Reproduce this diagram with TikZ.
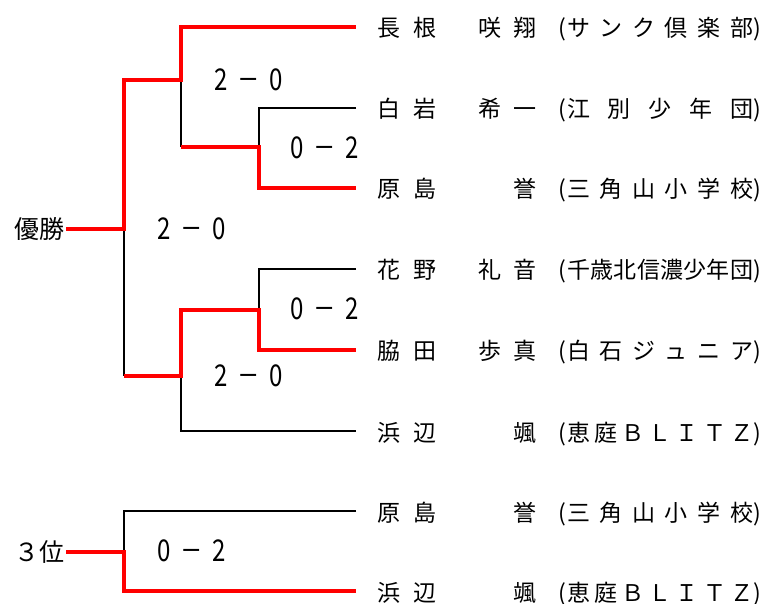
\documentclass[tikz,border=0pt]{standalone}
\usepackage{fontspec}
\setmainfont{Noto Sans CJK JP}
\newfontfamily\jpfont{Noto Sans CJK JP}
\newcommand\namefont{\jpfont\fontsize{23}{23}\selectfont}
\newcommand\scorefont{\jpfont\fontsize{30}{30}\selectfont}
\newcommand\labelfont{\jpfont\fontsize{25}{25}\selectfont}
\newcommand\scorechar[1]{\makebox[27.5pt]{\scalebox{0.8}[1]{#1}}}
\newcommand\score[2]{\scorechar{#1}\makebox[27.5pt]{\scalebox{1.1}[1]{−}}\scorechar{#2}}
\begin{document}
\begin{tikzpicture}[x=1pt,y=-1pt,
  bk/.style={line width=2pt, black},
  rd/.style={line width=4pt, red},
  nm/.style={inner sep=0pt, font=\namefont},
  sc/.style={inner sep=0pt, font=\scorefont},
  lb/.style={inner sep=0pt, font=\labelfont, anchor=east}]
\useasboundingbox (0,0) rectangle (764,604);

% bracket coordinates
\coordinate (e1) at (356,27);
\coordinate (e2) at (356,108);
\coordinate (e3) at (356,188);
\coordinate (e4) at (356,269);
\coordinate (e5) at (356,350);
\coordinate (e6) at (356,431);
\coordinate (e7) at (356,511);
\coordinate (e8) at (356,591);
\coordinate (a1) at (181,27);
\coordinate (b2) at (259,108);
\coordinate (b2m) at (259,147);
\coordinate (a2m) at (181,147);
\coordinate (b3) at (259,188);
\coordinate (a12) at (181,80);
\coordinate (f12) at (124,80);
\coordinate (fin) at (124,229);
\coordinate (win) at (66,229);
\coordinate (b4) at (259,269);
\coordinate (b45) at (259,310);
\coordinate (a45) at (181,310);
\coordinate (b5) at (259,350);
\coordinate (a456) at (181,376);
\coordinate (f456) at (124,376);
\coordinate (a6) at (181,431);
\coordinate (t7) at (124,511);
\coordinate (tm) at (124,552);
\coordinate (third) at (66,552);
\coordinate (t8) at (124,591);

% black (losing) lines
\draw[bk] (e2) -- (b2) -- (b2m);
\draw[bk] (a12) -- (a2m);
\draw[bk] (fin) -- (f456);
\draw[bk] (e4) -- (b4) -- (b45);
\draw[bk] (a456) -- (a6) -- (e6);
\draw[bk] (e7) -- (t7) -- (tm);

% red (winning) lines
\draw[rd] (win) -- (fin) -- (f12) -- (a12) -- (a1) -- (e1);
\draw[rd] (a2m) -- (b2m) -- (b3) -- (e3);
\draw[rd] (f456) -- (a456) -- (a45) -- (b45) -- (b5) -- (e5);
\draw[rd] (third) -- (tm) -- (t8) -- (e8);

% labels
\node[lb] (lwin) at (65,229) {優勝};
\node[lb] (lthird) at (65,552) {３位};

% scores
\node[sc] (s12) at (249,80) {\score{2}{0}};
\node[sc] (s23) at (325,148) {\score{0}{2}};
\node[sc] (sfin) at (192,229) {\score{2}{0}};
\node[sc] (s45) at (325,309) {\score{0}{2}};
\node[sc] (s456) at (249,376) {\score{2}{0}};
\node[sc] (sthird) at (192,551) {\score{0}{2}};

% players
\newcommand\player[5]{%
  \node[nm, anchor=base west] (sur#1) at (377,#2+10) {\makebox[59pt][s]{#3}};
  \node[nm, anchor=base east] (giv#1) at (537,#2+10) {#4};
  \node[nm, anchor=base east] (op#1) at (566,#2+10) {(};
  \node[nm, anchor=base west] (club#1) at (567,#2+10) {\makebox[186pt][s]{#5}};
  \node[nm, anchor=base west] (cp#1) at (753,#2+10) {)};
}
\player{1}{27}{長\hfill 根}{\makebox[58pt][s]{咲\hfill 翔}}{サ\hfill ン\hfill ク\hfill 倶\hfill 楽\hfill 部}
\player{2}{108}{白\hfill 岩}{\makebox[58pt][s]{希\hfill 一}}{江\hfill 別\hfill 少\hfill 年\hfill 団}
\player{3}{188}{原\hfill 島}{誉}{三\hfill 角\hfill 山\hfill 小\hfill 学\hfill 校}
\player{4}{269}{花\hfill 野}{\makebox[58pt][s]{礼\hfill 音}}{千\hfill 歳\hfill 北\hfill 信\hfill 濃\hfill 少\hfill 年\hfill 団}
\player{5}{350}{脇\hfill 田}{\makebox[58pt][s]{歩\hfill 真}}{白\hfill 石\hfill ジ\hfill ュ\hfill ニ\hfill ア}
\player{6}{431}{浜\hfill 辺}{颯}{恵\hfill 庭\hfill Ｂ\hfill Ｌ\hfill Ｉ\hfill Ｔ\hfill Ｚ}
\player{7}{511}{原\hfill 島}{誉}{三\hfill 角\hfill 山\hfill 小\hfill 学\hfill 校}
\player{8}{591}{浜\hfill 辺}{颯}{恵\hfill 庭\hfill Ｂ\hfill Ｌ\hfill Ｉ\hfill Ｔ\hfill Ｚ}
\end{tikzpicture}
\end{document}
